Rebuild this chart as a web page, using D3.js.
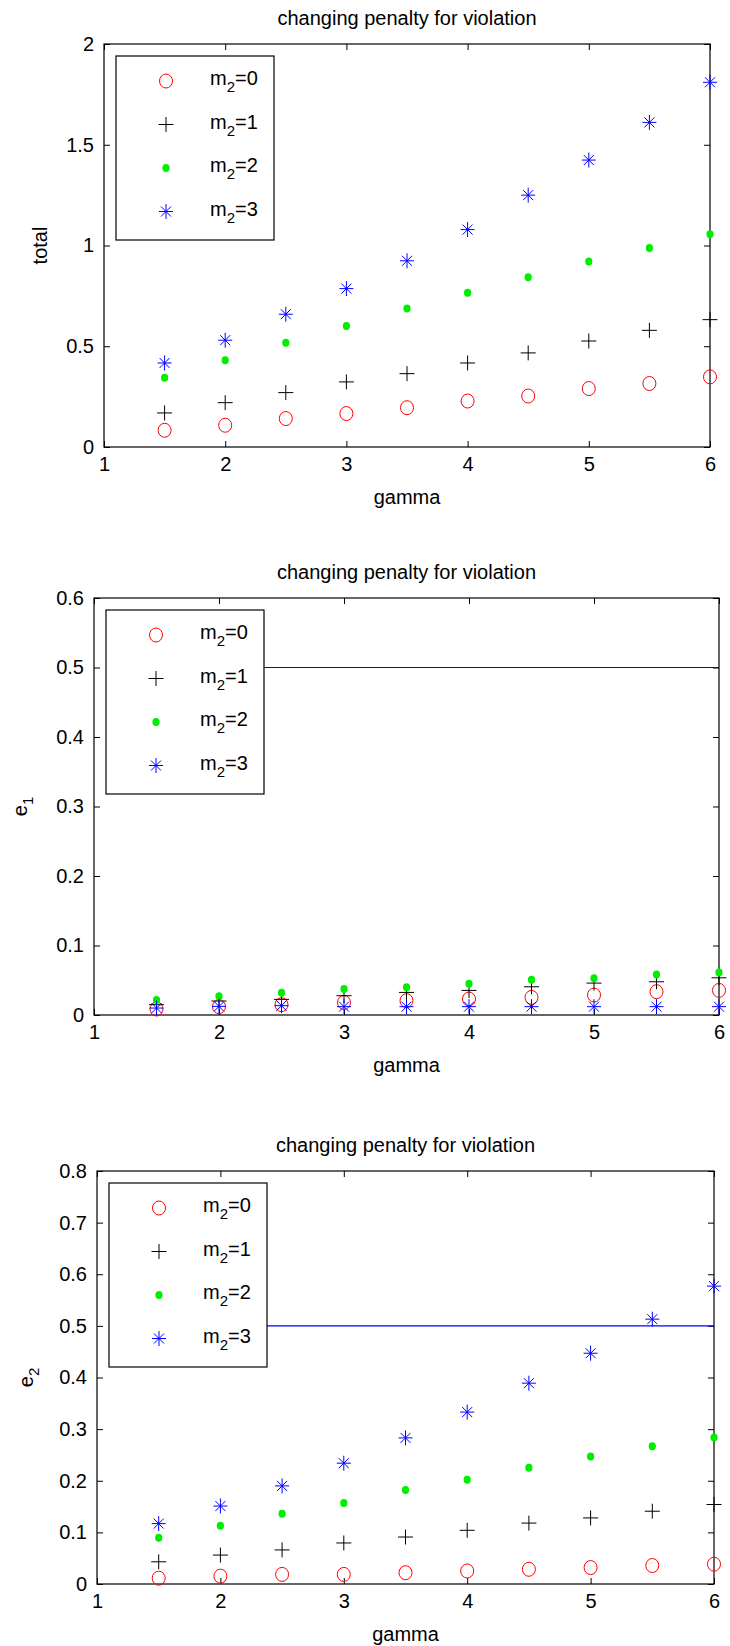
<!DOCTYPE html>
<html>
<head>
<meta charset="utf-8">
<script src="https://cdn.jsdelivr.net/npm/d3@7"></script>
<style>
  body { margin: 0; background: #fff; }
  text { font-family: "Liberation Sans", Arial, Helvetica, sans-serif; fill: #000; }
</style>
</head>
<body>
<div id="chart"></div>
<script>
// gamma values on the x axis
var gamma = [1.5, 2, 2.5, 3, 3.5, 4, 4.5, 5, 5.5, 6];
var xTicks = [1, 2, 3, 4, 5, 6];
var m2Labels = ["0", "1", "2", "3"];
var titleText = "changing penalty for violation";

// panel 1: total
var totalTicks = [0, 0.5, 1, 1.5, 2];
var totalM0 = [0.083, 0.108, 0.141, 0.166, 0.195, 0.228, 0.253, 0.290, 0.315, 0.348];
var totalM1 = [0.169, 0.220, 0.270, 0.323, 0.364, 0.417, 0.467, 0.526, 0.579, 0.632];
var totalM2 = [0.344, 0.430, 0.517, 0.601, 0.687, 0.765, 0.843, 0.921, 0.988, 1.056];
var totalM3 = [0.417, 0.530, 0.659, 0.786, 0.924, 1.079, 1.250, 1.424, 1.611, 1.810];

// panel 2: e1
var e1Ticks = [0, 0.1, 0.2, 0.3, 0.4, 0.5, 0.6];
var e1M0 = [0.0086, 0.012, 0.0148, 0.018, 0.0206, 0.023, 0.0253, 0.0287, 0.0335, 0.0354];
var e1M1 = [0.0148, 0.0201, 0.0225, 0.0277, 0.0325, 0.0354, 0.0406, 0.0459, 0.0478, 0.0535];
var e1M2 = [0.0215, 0.0268, 0.032, 0.0373, 0.040, 0.045, 0.0507, 0.053, 0.0583, 0.061];
var e1M3 = [0.010, 0.0124, 0.0134, 0.012, 0.012, 0.012, 0.012, 0.012, 0.012, 0.012];

// panel 3: e2
var e2Ticks = [0, 0.1, 0.2, 0.3, 0.4, 0.5, 0.6, 0.7, 0.8];
var e2M0 = [0.0113, 0.0152, 0.0186, 0.0186, 0.0219, 0.0252, 0.0285, 0.0318, 0.0358, 0.0384];
var e2M1 = [0.043, 0.056, 0.066, 0.0795, 0.091, 0.104, 0.118, 0.128, 0.141, 0.154];
var e2M2 = [0.0895, 0.113, 0.136, 0.157, 0.182, 0.202, 0.225, 0.247, 0.267, 0.284];
var e2M3 = [0.117, 0.151, 0.190, 0.234, 0.283, 0.333, 0.389, 0.447, 0.513, 0.577];

var threshold = 0.5;

var W = 730, H = 1646;
var svg = d3.select("#chart").append("svg")
    .attr("width", W)
    .attr("height", H);

var markerKinds = ["circle", "plus", "dot", "star"];
var markerColors = ["#ff0000", "#000000", "#00ee00", "#0000ff"];

function drawMarker(g, kind, color) {
    if (kind === "circle") {
        g.append("ellipse").attr("rx", 6.5).attr("ry", 7)
            .attr("fill", "none").attr("stroke", color).attr("stroke-width", 1);
    } else if (kind === "plus") {
        g.append("path").attr("d", "M-7.5,0H7.5M0,-7.5V7.5")
            .attr("stroke", color).attr("stroke-width", 1).attr("fill", "none");
    } else if (kind === "dot") {
        g.append("ellipse").attr("rx", 3.6).attr("ry", 4).attr("fill", color);
    } else {
        g.append("path").attr("d", "M-7,0H7M0,-7.5V7.5M-5,-5L5,5M-5,5L5,-5")
            .attr("stroke", color).attr("stroke-width", 1).attr("fill", "none");
    }
}

function drawPanel(p) {
    var x = d3.scaleLinear().domain([1, 6]).range([p.left, p.right]);
    var y = d3.scaleLinear().domain([0, p.ticks[p.ticks.length - 1]]).range([p.bottom, p.top]);
    var g = svg.append("g");

    // title
    g.append("text")
        .attr("x", (p.left + p.right) / 2)
        .attr("y", p.top - 26)
        .attr("text-anchor", "middle")
        .attr("dominant-baseline", "central")
        .attr("font-size", 20)
        .text(titleText);

    // axes, MATLAB style ticks pointing inward on all four sides
    var xAxisB = d3.axisBottom(x).tickValues(xTicks).tickSizeInner(-6).tickSizeOuter(0)
        .tickPadding(10).tickFormat(d3.format("d"));
    var xAxisT = d3.axisTop(x).tickValues(xTicks).tickSizeInner(-6).tickSizeOuter(0).tickFormat("");
    var yAxisL = d3.axisLeft(y).tickValues(p.ticks).tickSizeInner(-6).tickSizeOuter(0)
        .tickPadding(10).tickFormat(d => String(d));
    var yAxisR = d3.axisRight(y).tickValues(p.ticks).tickSizeInner(-6).tickSizeOuter(0).tickFormat("");

    g.append("g").attr("transform", "translate(0," + p.bottom + ")").call(xAxisB);
    g.append("g").attr("transform", "translate(0," + p.top + ")").call(xAxisT);
    g.append("g").attr("transform", "translate(" + p.left + ",0)").call(yAxisL);
    g.append("g").attr("transform", "translate(" + p.right + ",0)").call(yAxisR);

    g.selectAll(".tick text").attr("font-size", 20).attr("font-family", null).attr("fill", "#000");
    g.selectAll(".tick line").attr("stroke", "#000");
    g.selectAll(".domain").remove();

    g.append("rect")
        .attr("x", p.left).attr("y", p.top)
        .attr("width", p.right - p.left).attr("height", p.bottom - p.top)
        .attr("fill", "none").attr("stroke", "#000").attr("stroke-width", 1.2);

    // threshold line over the gamma range
    if (p.line) {
        g.append("line")
            .attr("x1", x(gamma[0])).attr("x2", x(gamma[gamma.length - 1]))
            .attr("y1", y(threshold)).attr("y2", y(threshold))
            .attr("stroke", "#0000ff").attr("stroke-width", 1.2);
    }

    // markers
    p.series.forEach(function (vals, si) {
        g.append("g").selectAll("g")
            .data(gamma.map((gv, i) => ({ gx: gv, v: vals[i] })))
            .enter().append("g")
            .attr("transform", d => "translate(" + x(d.gx) + "," + y(d.v) + ")")
            .each(function () { drawMarker(d3.select(this), markerKinds[si], markerColors[si]); });
    });

    // x label
    g.append("text")
        .attr("x", (p.left + p.right) / 2)
        .attr("y", p.bottom + 50)
        .attr("text-anchor", "middle")
        .attr("dominant-baseline", "central")
        .attr("font-size", 20)
        .text("gamma");

    // y label
    var yl = g.append("text")
        .attr("transform", "translate(" + p.ylabX + "," + ((p.top + p.bottom) / 2) + ") rotate(-90)")
        .attr("text-anchor", "middle")
        .attr("font-size", 20);
    yl.append("tspan").text(p.ylab);
    if (p.ysub) yl.append("tspan").attr("font-size", 15).attr("dy", 6).text(p.ysub);

    // legend
    var lg = g.append("g").attr("transform", "translate(" + (p.left + 12) + "," + (p.top + 12) + ")");
    lg.append("rect").attr("width", 158).attr("height", 184)
        .attr("fill", "#fff").attr("stroke", "#000").attr("stroke-width", 1.2);
    m2Labels.forEach(function (lab, i) {
        var row = lg.append("g").attr("transform", "translate(0," + (25 + i * 43.5) + ")");
        drawMarker(row.append("g").attr("transform", "translate(50,0)"), markerKinds[i], markerColors[i]);
        var t = row.append("text").attr("x", 94).attr("y", 4).attr("font-size", 20);
        t.append("tspan").text("m");
        t.append("tspan").attr("font-size", 15).attr("dy", 7).text("2");
        t.append("tspan").attr("dy", -7).text("=" + lab);
    });
}

var panels = [
    { left: 104, right: 710, top: 44, bottom: 447, ticks: totalTicks,
      series: [totalM0, totalM1, totalM2, totalM3], ylab: "total", ylabX: 47, line: false },
    { left: 94, right: 719, top: 598, bottom: 1015, ticks: e1Ticks,
      series: [e1M0, e1M1, e1M2, e1M3], ylab: "e", ysub: "1", ylabX: 27, line: true },
    { left: 97, right: 714, top: 1171, bottom: 1584, ticks: e2Ticks,
      series: [e2M0, e2M1, e2M2, e2M3], ylab: "e", ysub: "2", ylabX: 33, line: true }
];

panels.forEach(drawPanel);
</script>
</body>
</html>
